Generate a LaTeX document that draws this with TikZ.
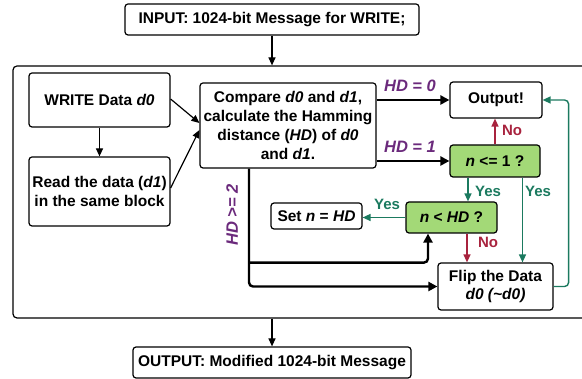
\documentclass[tikz,border=0pt]{standalone}
\usepackage{fontspec}
\setmainfont{Liberation Sans}
\usetikzlibrary{arrows.meta,calc}
\definecolor{gfill}{HTML}{A3D977}
\definecolor{gline}{HTML}{1B7A5F}
\definecolor{rline}{HTML}{A8233E}
\definecolor{purp}{HTML}{6B2A7C}
\begin{document}
\begin{tikzpicture}[x=1pt,y=-1pt,
  box/.style={draw=black,line width=1.2pt,rounded corners=3pt,fill=white,align=center,inner sep=1pt,
    font=\fontsize{15.5}{18.7}\selectfont\bfseries},
  gbox/.style={box,fill=gfill},
  thn/.style={line width=1.2pt,-{Triangle[length=8pt,width=7pt]}},
  thk/.style={line width=2.4pt,-{Triangle[length=9pt,width=9pt]}},
  grn/.style={draw=gline,line width=1.4pt,-{Triangle[length=8pt,width=7pt]}},
  red/.style={draw=rline,line width=1.4pt,-{Triangle[length=8pt,width=7pt]}},
  hdl/.style={text=purp,font=\fontsize{16.5}{18}\selectfont\bfseries\itshape},
  gl/.style={text=gline,font=\fontsize{15}{17}\selectfont\bfseries},
  rl/.style={text=rline,font=\fontsize{15}{17}\selectfont\bfseries}]
\useasboundingbox (0,0) rectangle (582,379);
\node[draw=black,line width=1.2pt,rounded corners=4pt,minimum width=577pt,minimum height=252pt,inner sep=0pt] (cont) at (301.5,192) {};
\node[box,minimum width=294pt,minimum height=31pt] (in) at (272,19.5) {INPUT: 1024-bit Message for WRITE;};
\node[box,minimum width=278pt,minimum height=31pt] (outp) at (272,362.5) {OUTPUT: Modified 1024-bit Message};
\node[box,minimum width=141pt,minimum height=54pt] (wr) at (99.5,100) {WRITE Data \textit{d0}};
\node[box,minimum width=141pt,minimum height=69pt] (rd) at (99.5,191.5) {Read the data (\textit{d1})\\in the same block};
\node[box,minimum width=176pt,minimum height=85pt] (cmp) at (288,125.5) {Compare \textit{d0} and \textit{d1},\\calculate the Hamming\\distance (\textit{HD}) of \textit{d0}\\and \textit{d1}.};
\node[box,minimum width=92pt,minimum height=36pt] (out) at (496,100) {Output!};
\node[gbox,minimum width=90pt,minimum height=32pt] (n1) at (495,161) {\textit{n} <= 1 ?};
\node[gbox,minimum width=91pt,minimum height=31pt] (nhd) at (451.5,217.5) {\textit{n} < \textit{HD} ?};
\node[box,minimum width=91pt,minimum height=26pt] (set) at (316.5,216) {Set \textit{n} = \textit{HD}};
\node[box,minimum width=115pt,minimum height=47pt] (flip) at (495.5,286.5) {Flip the Data\\\textit{d0 (\textasciitilde d0)}};
% helper coordinates
\coordinate (a1) at ($(n1.south)+(-27,0)$);
\coordinate (a2) at ($(n1.south)+(27.5,0)$);
\coordinate (a3) at ($(nhd.south)+(15.5,0)$);
\coordinate (a4) at ($(nhd.south)+(-23.5,0)$);
\coordinate (hb) at ($(cmp.south)+(-39,0)$);
\coordinate (j1) at ($(hb)+(0,94)$);
% connectors
\draw[thn] (in.south) -- (in.south |- cont.north);
\draw[thn] (cont.south -| outp.north) -- (outp.north);
\draw[thn] (wr.south) -- (rd.north);
\draw[thn] ($(wr.east)+(0,-1)$) -- ($(cmp.west)+(0,-2.5)$);
\draw[thn] ($(rd.east)+(0,-3.5)$) -- ($(cmp.west)+(0,4.5)$);
\draw[thk] (cmp.east |- out.west) -- (out.west);
\draw[thk] (cmp.east |- n1.west) -- (n1.west);
\draw[thk,rounded corners=4pt] (hb) |- (flip.west);
\draw[thk,rounded corners=4pt] (j1) -| (a4);
\draw[red] (n1.north) -- (n1.north |- out.south);
\draw[grn] (a1) -- (a1 |- nhd.north);
\draw[grn] (a2) -- (a2 |- flip.north);
\draw[grn] (nhd.west) -- (set.east |- nhd.west);
\draw[red] (a3) -- (a3 |- flip.north);
\draw[grn,rounded corners=4pt] (flip.east) -- ++(15,0) |- (out.east);
% labels
\node[hdl] (l0) at (410,86) {HD = 0};
\node[hdl] (l1) at (410,147) {HD = 1};
\node[hdl,rotate=90] (l2) at (232,215) {HD >= 2};
\node[rl] (no1) at (512,130) {No};
\node[rl] (no2) at (488,242) {No};
\node[gl] (y1) at (488,191) {Yes};
\node[gl] (y2) at (538,191) {Yes};
\node[gl] (y3) at (387,204) {Yes};
\end{tikzpicture}
\end{document}
